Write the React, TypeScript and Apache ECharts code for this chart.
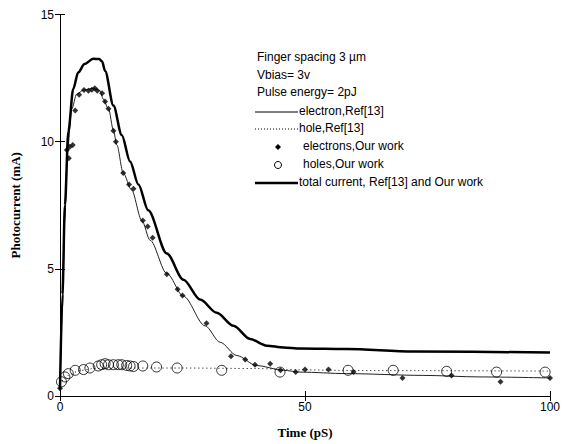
import React, { useEffect, useRef } from "react";
import * as echarts from "echarts";

// Total current, Ref[13] and our work (thick line)
const totalTime = [0, 0.5, 1.0, 1.7, 2.7, 3.7, 5.0, 6.8, 8.0, 8.6, 9.2, 10.9, 12.6, 14.3, 16.0, 18.0, 21.8, 25.2, 28.6, 32.0, 35.4, 38.8, 42.2, 45.6, 49, 58.5, 72.1, 100];
const totalValue = [0.3, 4.0, 7.5, 10.4, 12.07, 12.72, 13.05, 13.26, 13.25, 13.15, 12.78, 11.42, 10.26, 9.22, 8.32, 7.3, 5.6, 4.57, 3.79, 3.27, 2.76, 2.24, 1.98, 1.91, 1.87, 1.85, 1.75, 1.71];

// electron, Ref[13] (thin line)
const electronTime = [0, 0.5, 1.0, 1.5, 2.4, 3.4, 4.8, 6.8, 8.2, 8.8, 9.9, 10.9, 11.6, 12.9, 14.6, 16.7, 18.4, 21.8, 25.2, 29.6, 32.7, 36.1, 40.1, 45.6, 49, 58.5, 74.1, 85.7, 100];
const electronValue = [0.2, 3.5, 7.0, 9.6, 11.29, 11.87, 12.03, 12.1, 12.0, 11.68, 11.29, 10.45, 9.87, 8.77, 8.1, 6.9, 6.12, 4.82, 3.92, 2.76, 2.11, 1.59, 1.2, 1.01, 0.94, 0.88, 0.81, 0.75, 0.71];

// hole, Ref[13] (dotted line)
const holeTime = [0, 1, 2, 4, 7, 10, 15, 25, 40, 49, 60, 100];
const holeValue = [0.45, 0.7, 0.85, 1.0, 1.08, 1.1, 1.1, 1.1, 1.08, 1.03, 1.0, 0.98];

// electrons, Our work (dots)
const eDotTime = [0, 1.4, 1.8, 2.0, 2.6, 3.1, 3.9, 4.9, 5.8, 6.5, 7.1, 7.6, 8.6, 9.2, 9.9, 10.9, 11.4, 12.9, 14.1, 15.0, 16.9, 17.9, 18.9, 21.8, 24.0, 25.0, 29.9, 34.9, 37.8, 39.8, 42.9, 45.0, 48.1, 50.0, 54.8, 59.9, 69.9, 79.9, 89.9, 100];
const eDotValue = [0.3, 9.67, 9.35, 9.8, 9.87, 11.23, 11.84, 12.03, 12.0, 12.04, 12.1, 12.0, 11.9, 11.58, 11.29, 10.43, 10.0, 8.77, 8.32, 8.15, 6.9, 6.66, 6.22, 4.79, 4.2, 3.95, 2.86, 1.56, 1.44, 1.23, 1.27, 1.01, 0.94, 1.04, 1.04, 0.94, 0.71, 0.81, 0.56, 0.71];

// holes, Our work (open circles)
const hDotTime = [0.3, 1.0, 1.7, 3.1, 4.8, 6.1, 7.8, 8.5, 9.2, 9.9, 10.9, 11.9, 12.6, 13.6, 14.3, 15.0, 16.9, 19.7, 23.9, 33.0, 44.9, 58.8, 68.0, 78.9, 89.1, 99];
const hDotValue = [0.56, 0.75, 0.88, 1.01, 1.04, 1.1, 1.18, 1.23, 1.27, 1.23, 1.23, 1.23, 1.23, 1.2, 1.18, 1.16, 1.18, 1.14, 1.1, 1.01, 0.94, 1.01, 1.01, 0.97, 0.94, 0.94];

const xTicks = [0, 50, 100];
const yTicks = [0, 5, 10, 15];

const infoLines = ["Finger spacing 3 \u00b5m", "Vbias= 3v", "Pulse energy= 2pJ"];
const legendNames = [
  "electron,Ref[13]",
  "hole,Ref[13]",
  "electrons,Our work",
  "holes,Our work",
  "total current, Ref[13] and Our work",
];

const zip = (a: number[], b: number[]) => a.map((v, i) => [v, b[i]]);

export default function App() {
  const ref = useRef<HTMLDivElement>(null);
  useEffect(() => {
    if (!ref.current) return;
    const chart = echarts.init(ref.current, undefined, { renderer: "svg" });
    const font = "'Liberation Sans', Arial, sans-serif";
    const serif = "'Liberation Serif', 'Times New Roman', serif";
    const axisCommon = {
      axisLine: { show: true, lineStyle: { color: "#000", width: 1 } },
      axisTick: { show: true, inside: true, length: 5, lineStyle: { color: "#000" } },
      splitLine: { show: false },
    };
    const legendY = [112, 129, 147, 165, 183];
    const graphic: any[] = [];
    infoLines.forEach((t, i) => {
      graphic.push({
        type: "text",
        left: 257,
        top: 51 + i * 17.5,
        style: { text: t, font: `12px ${font}`, fill: "#000" },
      });
    });
    // legend markers
    graphic.push({ type: "line", shape: { x1: 255, y1: legendY[0], x2: 298, y2: legendY[0] }, style: { stroke: "#000", lineWidth: 1 } });
    graphic.push({ type: "line", shape: { x1: 255, y1: legendY[1], x2: 298, y2: legendY[1] }, style: { stroke: "#000", lineWidth: 1, lineDash: [1, 2] } });
    graphic.push({ type: "polygon", shape: { points: [[278, legendY[2] - 3], [281, legendY[2]], [278, legendY[2] + 3], [275, legendY[2]]] }, style: { fill: "#000" } });
    graphic.push({ type: "circle", shape: { cx: 278, cy: legendY[3], r: 3.5 }, style: { fill: "none", stroke: "#000", lineWidth: 1 } });
    graphic.push({ type: "line", shape: { x1: 255, y1: legendY[4], x2: 298, y2: legendY[4] }, style: { stroke: "#000", lineWidth: 2.5 } });
    legendNames.forEach((t, i) => {
      graphic.push({
        type: "text",
        left: i === 2 || i === 3 ? 303 : 299,
        top: legendY[i] - 7,
        style: { text: t, font: `12px ${font}`, fill: "#000" },
      });
    });

    chart.setOption({
      animation: false,
      backgroundColor: "#fff",
      grid: { left: 60, right: 20, top: 14.5, bottom: 43, containLabel: false },
      xAxis: [
        {
          type: "value",
          min: 0,
          max: 100,
          interval: 50,
          position: "bottom",
          name: "Time (pS)",
          nameLocation: "middle",
          nameGap: 30,
          nameTextStyle: { fontFamily: serif, fontWeight: "bold", fontSize: 13, color: "#000" },
          axisLabel: { fontFamily: font, fontSize: 12, color: "#000", margin: 5, customValues: xTicks },
          ...axisCommon,
        },
        {
          type: "value",
          min: 0,
          max: 100,
          interval: 50,
          position: "top",
          axisLabel: { show: false },
          ...axisCommon,
        },
      ],
      yAxis: [
        {
          type: "value",
          min: 0,
          max: 15,
          interval: 5,
          position: "left",
          name: "Photocurrent (mA)",
          nameLocation: "middle",
          nameGap: 38,
          nameTextStyle: { fontFamily: serif, fontWeight: "bold", fontSize: 13, color: "#000" },
          axisLabel: { fontFamily: font, fontSize: 12, color: "#000", margin: 6, customValues: yTicks },
          ...axisCommon,
        },
        {
          type: "value",
          min: 0,
          max: 15,
          interval: 5,
          position: "right",
          axisLabel: { show: false },
          ...axisCommon,
        },
      ],
      graphic,
      series: [
        {
          name: legendNames[1],
          type: "line",
          data: zip(holeTime, holeValue),
          smooth: 0.3,
          smoothMonotone: "x",
          showSymbol: false,
          lineStyle: { color: "#000", width: 1, type: [1, 3] },
          z: 2,
        },
        {
          name: legendNames[0],
          type: "line",
          data: zip(electronTime, electronValue),
          smooth: 0.3,
          smoothMonotone: "x",
          showSymbol: false,
          lineStyle: { color: "#222", width: 1 },
          z: 2,
        },
        {
          name: legendNames[4],
          type: "line",
          data: zip(totalTime, totalValue),
          smooth: 0.3,
          smoothMonotone: "x",
          showSymbol: false,
          lineStyle: { color: "#000", width: 2.5 },
          z: 3,
        },
        {
          name: legendNames[2],
          type: "scatter",
          data: zip(eDotTime, eDotValue),
          symbol: "diamond",
          symbolSize: 6,
          itemStyle: { color: "#000" },
          z: 4,
        },
        {
          name: legendNames[3],
          type: "scatter",
          data: zip(hDotTime, hDotValue),
          symbol: "circle",
          symbolSize: 10,
          itemStyle: { color: "rgba(0,0,0,0)", borderColor: "#000", borderWidth: 1 },
          z: 4,
        },
      ],
    });
    return () => chart.dispose();
  }, []);
  return <div ref={ref} style={{ width: 570, height: 444, position: "absolute", left: 0, top: 0 }} />;
}
